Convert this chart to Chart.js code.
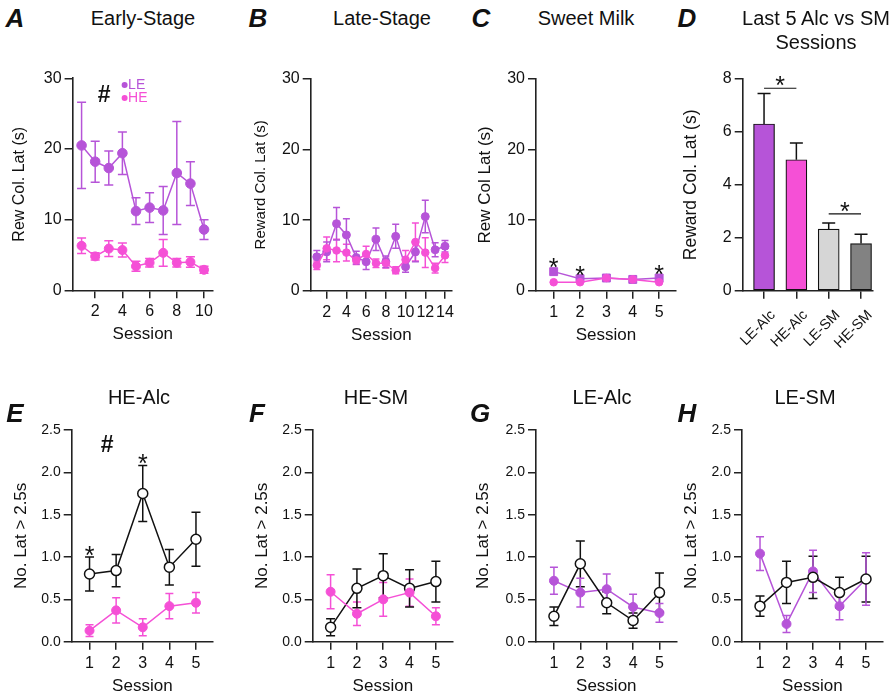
<!DOCTYPE html>
<html lang="en">
<head>
  <meta charset="UTF-8">
  <title>Reward collection latency</title>
  <script src="https://cdn.jsdelivr.net/npm/chart.js@4.4.1/dist/chart.umd.min.js"></script>
  <style>
    body { margin: 0; background: #fff; font-family: "Liberation Sans", Arial, sans-serif; }
    #fig { position: relative; width: 894px; height: 695px; overflow: hidden; background: #fff; }
    #fig canvas { position: absolute; }
    .title, .letter { position: absolute; transform: translate(-50%, -50%); white-space: nowrap; color: #111; z-index: 2; text-align: center; }
    .title { font-size: 20px; line-height: 24px; }
    .letter { font-size: 26px; font-weight: bold; font-style: italic; }
  </style>
</head>
<body>
<div id="fig">
  <div class="letter" style="left:15px;top:18px">A</div>
  <div class="letter" style="left:258px;top:18px">B</div>
  <div class="letter" style="left:481px;top:18px">C</div>
  <div class="letter" style="left:687px;top:18px">D</div>
  <div class="letter" style="left:15px;top:413px">E</div>
  <div class="letter" style="left:257px;top:413px">F</div>
  <div class="letter" style="left:480px;top:413px">G</div>
  <div class="letter" style="left:687px;top:413px">H</div>

  <div class="title" style="left:143px;top:18px">Early-Stage</div>
  <div class="title" style="left:382px;top:18px">Late-Stage</div>
  <div class="title" style="left:586px;top:18px">Sweet Milk</div>
  <div class="title" style="left:816px;top:30px">Last 5 Alc vs SM<br>Sessions</div>
  <div class="title" style="left:139px;top:397px">HE-Alc</div>
  <div class="title" style="left:376px;top:397px">HE-SM</div>
  <div class="title" style="left:602px;top:397px">LE-Alc</div>
  <div class="title" style="left:805px;top:397px">LE-SM</div>
</div>

<script>
  // ---- data ----
  const sessionsEarly = [1, 2, 3, 4, 5, 6, 7, 8, 9, 10];
  const earlyLE    = [20.5, 18.2, 17.3, 19.4, 11.2, 11.7, 11.3, 16.6, 15.1, 8.6];
  const earlyLEsem = [6.1, 2.9, 2.4, 3.0, 1.9, 2.1, 3.4, 7.3, 3.1, 1.4];
  const earlyHE    = [6.3, 4.8, 5.9, 5.7, 3.4, 3.9, 5.3, 3.9, 4.0, 2.9];
  const earlyHEsem = [1.1, 0.5, 1.1, 1.0, 0.7, 0.6, 1.9, 0.6, 0.75, 0.5];

  const sessionsLate = [1, 2, 3, 4, 5, 6, 7, 8, 9, 10, 11, 12, 13, 14];
  const lateLE    = [4.8, 5.5, 9.5, 7.9, 4.7, 4.1, 7.3, 4.1, 7.7, 3.4, 5.5, 10.5, 5.8, 6.3];
  const lateLEsem = [0.9, 1.4, 2.3, 2.3, 0.9, 1.1, 1.6, 0.8, 1.7, 0.8, 1.4, 2.3, 1.0, 0.8];
  const lateHE    = [3.6, 6.0, 5.7, 5.4, 4.3, 5.2, 3.9, 3.9, 2.9, 4.4, 6.9, 5.4, 3.2, 5.0];
  const lateHEsem = [0.6, 1.6, 1.6, 1.2, 0.6, 1.1, 0.6, 0.7, 0.5, 1.3, 2.7, 2.1, 0.7, 1.0];

  const sessionsFive = [1, 2, 3, 4, 5];
  const milkLE    = [2.7, 1.7, 1.8, 1.6, 1.8];
  const milkLEsem = [0.3, 0.2, 0.2, 0.15, 0.2];
  const milkHE    = [1.2, 1.2, 1.8, 1.6, 1.2];
  const milkHEsem = [0.15, 0.15, 0.2, 0.15, 0.15];
  const starsMilk = [1, 2, 5];

  const groups     = ['LE-Alc', 'HE-Alc', 'LE-SM', 'HE-SM'];
  const last5      = [6.3, 4.95, 2.33, 1.78];
  const last5sem   = [1.15, 0.63, 0.23, 0.35];
  const sigPairs   = [[0, 1], [2, 3]];
  const sigLevels  = [7.65, 2.9];

  const heAlcOpen     = [0.80, 0.84, 1.75, 0.88, 1.21];
  const heAlcOpenSem  = [0.20, 0.19, 0.33, 0.21, 0.32];
  const heAlcFill     = [0.13, 0.37, 0.17, 0.42, 0.46];
  const heAlcFillSem  = [0.07, 0.15, 0.10, 0.15, 0.12];
  const starsHeAlc    = [1, 3];

  const heSmOpen      = [0.17, 0.63, 0.78, 0.63, 0.71];
  const heSmOpenSem   = [0.10, 0.23, 0.26, 0.22, 0.24];
  const heSmFill      = [0.59, 0.33, 0.50, 0.58, 0.30];
  const heSmFillSem   = [0.20, 0.14, 0.20, 0.16, 0.10];

  const leAlcOpen     = [0.30, 0.92, 0.46, 0.25, 0.58];
  const leAlcOpenSem  = [0.11, 0.27, 0.13, 0.09, 0.23];
  const leAlcFill     = [0.72, 0.58, 0.62, 0.41, 0.34];
  const leAlcFillSem  = [0.16, 0.17, 0.18, 0.15, 0.11];

  const leSmOpen      = [0.42, 0.70, 0.76, 0.58, 0.74];
  const leSmOpenSem   = [0.12, 0.25, 0.25, 0.18, 0.27];
  const leSmFill      = [1.04, 0.21, 0.83, 0.42, 0.74];
  const leSmFillSem   = [0.20, 0.10, 0.25, 0.16, 0.31];

  const ticksEarly = [2, 4, 6, 8, 10];
  const ticksLate  = [2, 4, 6, 8, 10, 12, 14];
  const ticksFive  = [1, 2, 3, 4, 5];
  const yTicksLat   = [0, 10, 20, 30];
  const yTicksBar   = [0, 2, 4, 6, 8];
  const yTicksCount = [0, 0.5, 1, 1.5, 2, 2.5];

  const hashEarly = [2.66, 27.8];
  const hashHeAlc = [1.66, 2.34];

  // ---- styling ----
  const PURPLE = '#b654d8', PINK = '#f550d6', INK = '#111';
  const FONT = '"Liberation Sans", Arial, sans-serif';
  Chart.defaults.font.family = FONT;
  Chart.defaults.color = INK;

  const xy = (xs, ys) => xs.map((x, i) => ({ x: x, y: ys[i] }));

  const errorBars = {
    id: 'errorBars',
    beforeDatasetsDraw(chart) {
      if (chart.config.type === 'bar') return;
      const { ctx } = chart, y = chart.scales.y;
      chart.data.datasets.forEach((ds, i) => {
        if (!ds.sem) return;
        const meta = chart.getDatasetMeta(i);
        ctx.save();
        ctx.strokeStyle = ds.borderColor;
        ctx.lineWidth = 1.5;
        meta.data.forEach((pt, j) => {
          const v = ds.data[j].y, e = ds.sem[j], c = ds.cap;
          const t = y.getPixelForValue(v + e), b = y.getPixelForValue(v - e);
          ctx.beginPath();
          ctx.moveTo(pt.x, t); ctx.lineTo(pt.x, b);
          ctx.moveTo(pt.x - c, t); ctx.lineTo(pt.x + c, t);
          ctx.moveTo(pt.x - c, b); ctx.lineTo(pt.x + c, b);
          ctx.stroke();
        });
        ctx.restore();
      });
    },
    afterDatasetsDraw(chart) {
      if (chart.config.type !== 'bar') return;
      const { ctx } = chart, y = chart.scales.y;
      chart.data.datasets.forEach((ds, i) => {
        const meta = chart.getDatasetMeta(i);
        ctx.save();
        ctx.strokeStyle = INK;
        ctx.lineWidth = 1.5;
        meta.data.forEach((bar, j) => {
          const t = y.getPixelForValue(ds.data[j].y + ds.sem[j]);
          ctx.beginPath();
          ctx.moveTo(bar.x, bar.y); ctx.lineTo(bar.x, t);
          ctx.moveTo(bar.x - 6.5, t); ctx.lineTo(bar.x + 6.5, t);
          ctx.stroke();
        });
        ctx.restore();
      });
    }
  };

  const STAR = 25;
  function star(ctx, x, yc) {
    ctx.font = STAR + 'px ' + FONT;
    ctx.textAlign = 'center';
    ctx.textBaseline = 'alphabetic';
    ctx.fillText('*', x, yc + 0.58 * STAR);
  }

  const marks = {
    id: 'marks',
    afterDatasetsDraw(chart, args, o) {
      const { ctx, chartArea } = chart, x = chart.scales.x, y = chart.scales.y;
      ctx.save();
      ctx.fillStyle = INK;
      ctx.strokeStyle = INK;
      (o.stars || []).forEach(s => {
        let top = Infinity;
        chart.data.datasets.forEach(ds => {
          const j = ds.data.findIndex(p => p.x === s);
          if (j >= 0) top = Math.min(top, y.getPixelForValue(ds.data[j].y + ds.sem[j]));
        });
        star(ctx, x.getPixelForValue(s), top - 8);
      });
      (o.pairs || []).forEach((p, k) => {
        const yl = y.getPixelForValue(o.levels[k]);
        const x0 = x.getPixelForValue(p[0]), x1 = x.getPixelForValue(p[1]);
        ctx.lineWidth = 1.2;
        ctx.beginPath(); ctx.moveTo(x0, yl); ctx.lineTo(x1, yl); ctx.stroke();
        star(ctx, (x0 + x1) / 2, yl - 8.5);
      });
      if (o.hash) {
        ctx.font = 'bold 23px ' + FONT;
        ctx.textAlign = 'center';
        ctx.textBaseline = 'alphabetic';
        ctx.fillText('#', x.getPixelForValue(o.hash[0]), y.getPixelForValue(o.hash[1]) + 0.35 * 23);
      }
      (o.legend || []).forEach((it, k) => {
        const lx = chartArea.left + 52, ly = chartArea.top + 6.7 + k * 13;
        ctx.fillStyle = it.color;
        ctx.beginPath(); ctx.arc(lx, ly, 3, 0, Math.PI * 2); ctx.fill();
        ctx.font = '14px ' + FONT;
        ctx.textAlign = 'left';
        ctx.textBaseline = 'middle';
        ctx.fillText(it.text, lx + 3.5, ly + 0.5);
      });
      ctx.restore();
    }
  };

  const fig = document.getElementById('fig');

  // box = plot area in page pixels, yt = centre of the y title
  function makeChart(box, type, datasets, sc, extra) {
    const off = 0.6 * box.ytSize + 4;
    const left = Math.round(box.yt - off), top = Math.round(box.T - 14);
    const w = Math.round(box.R + 14 - left), h = Math.round(box.B + box.xh - top);
    const c = document.createElement('canvas');
    c.width = w; c.height = h;
    c.style.left = left + 'px'; c.style.top = top + 'px';
    c.style.width = w + 'px'; c.style.height = h + 'px';
    fig.appendChild(c);
    const yw = box.L - left, xh = top + h - box.B;

    const tickGrid = { display: true, drawOnChartArea: false, drawTicks: true, tickLength: 8, color: '#222', lineWidth: 1.5, offset: false };
    const border = { display: true, color: '#222', width: 1.6 };

    return new Chart(c, {
      type: type,
      data: { datasets: datasets },
      options: {
        responsive: false,
        animation: false,
        events: [],
        layout: { padding: { top: box.T - top, right: left + w - box.R, left: 0, bottom: 0 } },
        scales: {
          x: {
            type: 'linear', min: sc.xmin, max: sc.xmax, offset: false,
            afterBuildTicks: s => { s.ticks = sc.xticks.map(v => ({ value: v })); },
            afterFit: s => { s.height = xh; },
            grid: tickGrid, border: border,
            ticks: {
              font: { size: sc.xTickSize || 16 }, padding: sc.xPad || 4, color: INK, autoSkip: false,
              minRotation: sc.rot || 0, maxRotation: sc.rot || 0, labelOffset: sc.xShift || 0,
              callback: sc.xfmt || (v => v)
            },
            title: { display: !!sc.xtitle, text: sc.xtitle, font: { size: 17 }, color: INK, padding: { top: 4, bottom: 4 } }
          },
          y: {
            type: 'linear', min: 0, max: sc.ymax,
            afterBuildTicks: s => { s.ticks = sc.yticks.map(v => ({ value: v })); },
            afterFit: s => { s.width = yw; },
            grid: tickGrid, border: border,
            ticks: { font: { size: sc.yTickSize || 16 }, padding: 3, color: INK, callback: sc.yfmt || (v => v) },
            title: { display: true, text: sc.ytitle, font: { size: box.ytSize }, color: INK, padding: { top: 4, bottom: 4 } }
          }
        },
        plugins: Object.assign({ legend: { display: false }, tooltip: { enabled: false } }, { marks: extra || {} })
      },
      plugins: [errorBars, marks]
    });
  }

  function series(xs, ys, sem, color, opt) {
    return Object.assign({
      data: xy(xs, ys), sem: sem, cap: 4,
      borderColor: color, backgroundColor: color,
      pointBackgroundColor: color, pointBorderColor: color,
      borderWidth: 1.5, pointRadius: 4.5, pointBorderWidth: 1,
      pointStyle: 'circle', tension: 0, clip: false
    }, opt || {});
  }
  function openSeries(xs, ys, sem) {
    return series(xs, ys, sem, INK, { pointBackgroundColor: '#fff', pointRadius: 5, pointBorderWidth: 1.5, cap: 4.5 });
  }

  const fmt1 = v => v.toFixed(1);
  const fiveX = { xmin: 0.33, xmax: 5.64, xticks: ticksFive, xtitle: 'Session' };
  const countY = { ymax: 2.5, yticks: yTicksCount, ytitle: 'No. Lat > 2.5s', yfmt: fmt1, yTickSize: 14 };

  // A
  makeChart({ L: 72.6, R: 213, T: 78.3, B: 290.3, yt: 20, ytSize: 16, xh: 59 }, 'line', [
    series(sessionsEarly, earlyHE, earlyHEsem, PINK, { cap: 4.5 }),
    series(sessionsEarly, earlyLE, earlyLEsem, PURPLE, { pointRadius: 4.8, cap: 4.5 })
  ], { xmin: 0.34, xmax: 10.66, xticks: ticksEarly, xtitle: 'Session', ymax: 30, yticks: yTicksLat, ytitle: 'Rew Col. Lat (s)' },
  { hash: hashEarly, legend: [{ text: 'LE', color: PURPLE }, { text: 'HE', color: PINK }] });

  // B
  makeChart({ L: 310.7, R: 452, T: 79, B: 290.7, yt: 260.7, ytSize: 15, xh: 59 }, 'line', [
    series(sessionsLate, lateHE, lateHEsem, PINK, { pointRadius: 3.8, cap: 3.5 }),
    series(sessionsLate, lateLE, lateLEsem, PURPLE, { pointRadius: 4, cap: 3.5 })
  ], { xmin: 0.38, xmax: 14.71, xticks: ticksLate, xtitle: 'Session', ymax: 30, yticks: yTicksLat, ytitle: 'Reward Col. Lat (s)' });

  // C
  makeChart({ L: 536, R: 676, T: 79, B: 290.7, yt: 485, ytSize: 17, xh: 59 }, 'line', [
    series(sessionsFive, milkHE, milkHEsem, PINK, { pointRadius: 3.8, cap: 3 }),
    series(sessionsFive, milkLE, milkLEsem, PURPLE, { pointStyle: 'rect', pointRadius: 5.6, cap: 3 })
  ], Object.assign({}, fiveX, { ymax: 30, yticks: yTicksLat, ytitle: 'Rew Col Lat (s)' }),
  { stars: starsMilk });

  // D
  makeChart({ L: 742.7, R: 873, T: 79, B: 290.7, yt: 691.7, ytSize: 17.5, xh: 60 }, 'bar', [{
    data: xy(groups.map((g, i) => i), last5), sem: last5sem,
    backgroundColor: [PURPLE, PINK, '#d6d6d6', '#828282'],
    borderColor: INK, borderWidth: 1.2, barThickness: 21, borderSkipped: false
  }], { xmin: -0.66, xmax: 3.37, xticks: groups.map((g, i) => i), xfmt: v => groups[v], rot: 45, xTickSize: 14.5,
        xPad: 8, xShift: 9, ymax: 8, yticks: yTicksBar, ytitle: 'Reward Col. Lat (s)' },
  { pairs: sigPairs, levels: sigLevels });

  // E
  makeChart({ L: 71.7, R: 213, T: 430, B: 641.7, yt: 20.7, ytSize: 17, xh: 59 }, 'line', [
    series(sessionsFive, heAlcFill, heAlcFillSem, PINK),
    openSeries(sessionsFive, heAlcOpen, heAlcOpenSem)
  ], Object.assign({}, fiveX, countY), { stars: starsHeAlc, hash: hashHeAlc });

  // F
  makeChart({ L: 312.7, R: 453, T: 430, B: 641.7, yt: 261.7, ytSize: 17, xh: 59 }, 'line', [
    series(sessionsFive, heSmFill, heSmFillSem, PINK),
    openSeries(sessionsFive, heSmOpen, heSmOpenSem)
  ], Object.assign({}, fiveX, countY, { xmin: 0.32, xmax: 5.65 }));

  // G
  makeChart({ L: 536, R: 676.6, T: 430, B: 641.7, yt: 483.3, ytSize: 17, xh: 59 }, 'line', [
    openSeries(sessionsFive, leAlcOpen, leAlcOpenSem),
    series(sessionsFive, leAlcFill, leAlcFillSem, PURPLE)
  ], Object.assign({}, fiveX, countY, { xmin: 0.32, xmax: 5.65 }));

  // H
  makeChart({ L: 742, R: 882.7, T: 430, B: 641.7, yt: 690.7, ytSize: 17, xh: 59 }, 'line', [
    openSeries(sessionsFive, leSmOpen, leSmOpenSem),
    series(sessionsFive, leSmFill, leSmFillSem, PURPLE)
  ], Object.assign({}, fiveX, countY, { xmin: 0.32, xmax: 5.63 }));
</script>
</body>
</html>
